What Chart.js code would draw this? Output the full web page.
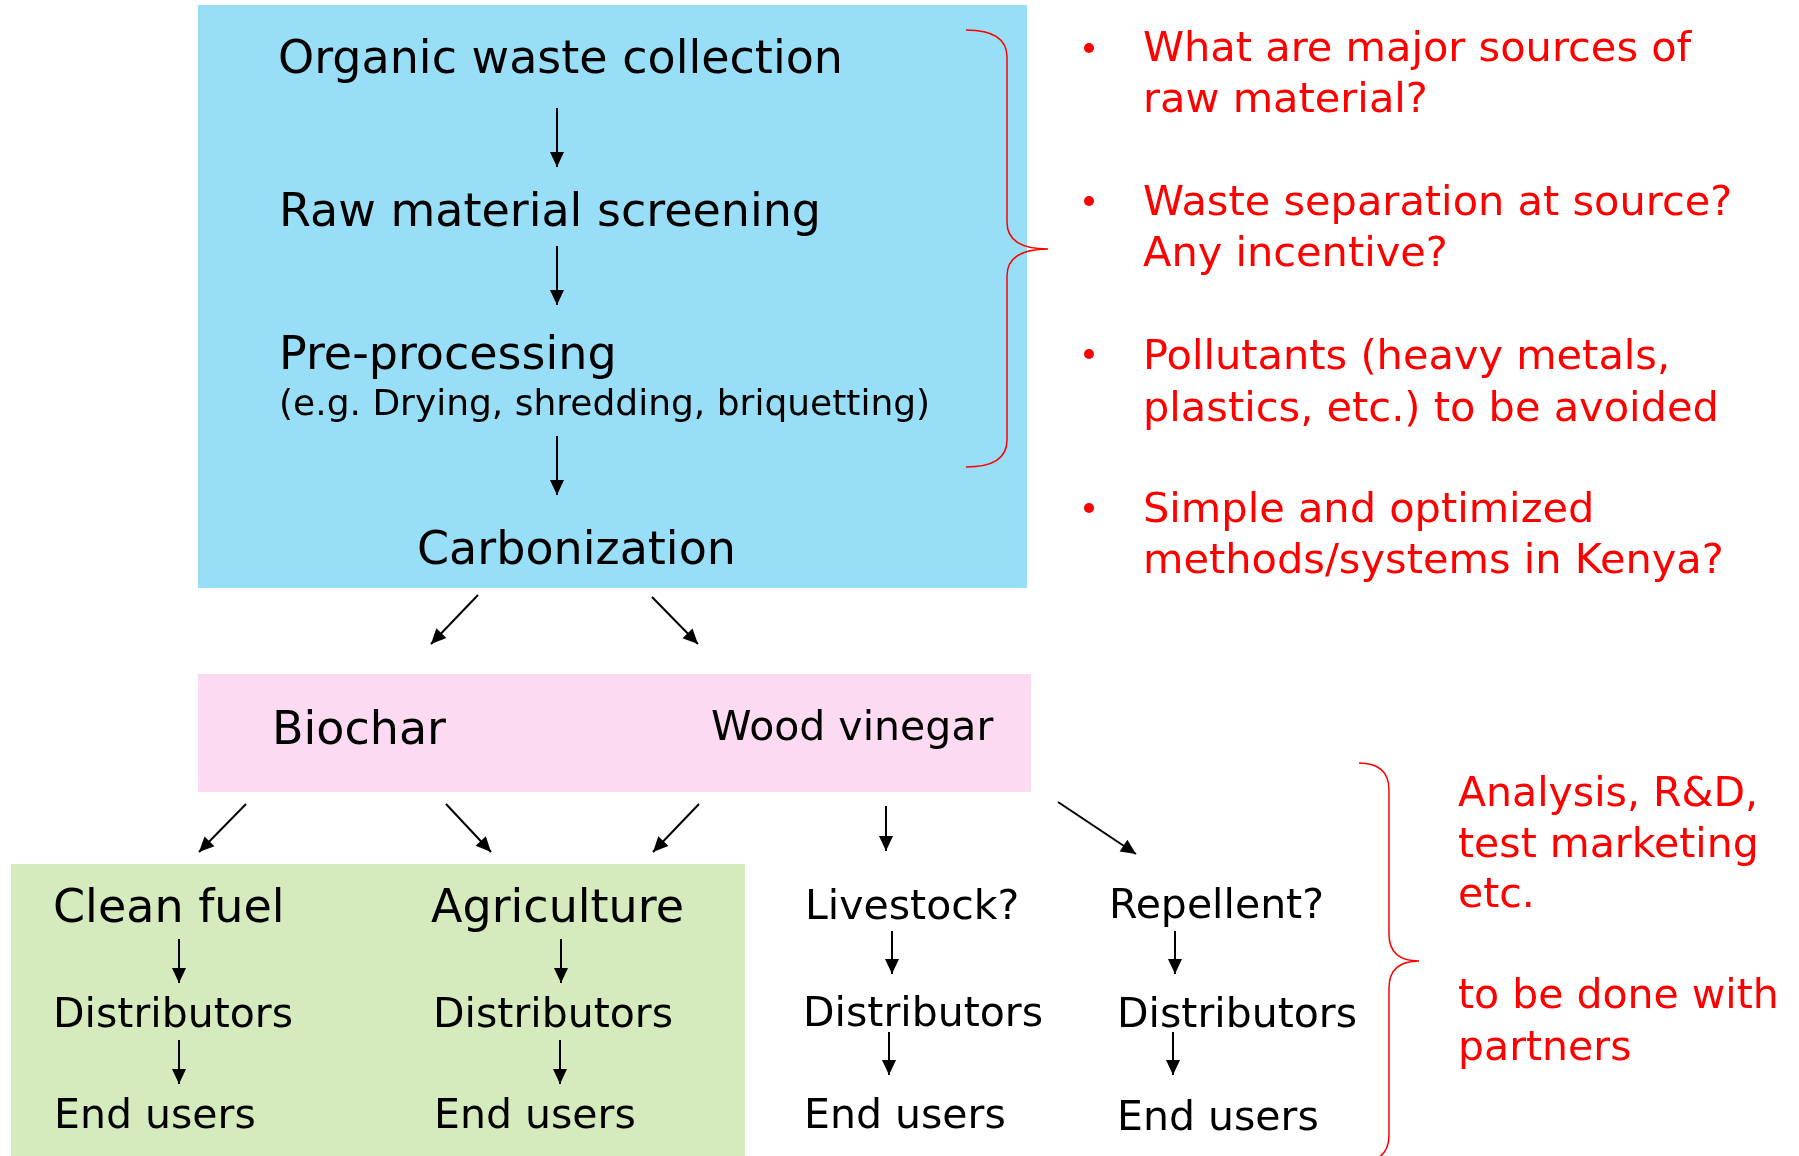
<!DOCTYPE html>
<html>
<head>
<meta charset="utf-8">
<script src="https://cdn.jsdelivr.net/npm/chart.js@4.4.1/dist/chart.umd.min.js"></script>
<style>
  html, body { margin:0; padding:0; background:#fff; }
  #wrap { width:1799px; height:1156px; }
</style>
</head>
<body>
<div id="wrap"><canvas id="flow" width="1799" height="1156"></canvas></div>
<script>
// 流程圖：每個節點都是座標系 (0..1799, 0..1156) 裡的一個點
const W = 1799, H = 1156;

// 上方流程
const flowSteps = ['Organic waste collection', 'Raw material screening', 'Pre-processing', 'Carbonization'];
const flowStepX = [278, 279, 279, 417];
const flowStepY = [73, 226, 369, 564];
const flowNote = ['(e.g. Drying, shredding, briquetting)'];
const flowNoteX = [279];
const flowNoteY = [415];

// 產物
const products = ['Biochar', 'Wood vinegar'];
const productX = [272, 711];
const productY = [744, 740];

// 用途 → 通路 → 使用者
const uses = ['Clean fuel', 'Agriculture', 'Livestock?', 'Repellent?'];
const useX = [53, 431, 805, 1109];
const useY = [922, 922, 919, 918];
const distLabel = ['Distributors', 'Distributors', 'Distributors', 'Distributors'];
const distX = [53, 433, 803, 1117];
const distY = [1027, 1027, 1026, 1027];
const endLabel = ['End users', 'End users', 'End users', 'End users'];
const endX = [54, 434, 804, 1117];
const endY = [1128, 1128, 1128, 1130];

// 紅字問題
const questions = ['What are major sources of', 'raw material?', 'Waste separation at source?', 'Any incentive?',
  'Pollutants (heavy metals,', 'plastics, etc.) to be avoided', 'Simple and optimized', 'methods/systems in Kenya?'];
const questionX = [1143, 1143, 1143, 1143, 1143, 1143, 1143, 1143];
const questionY = [61, 112, 215, 266, 369, 421, 522, 573];
const bulletX = [1089, 1089, 1089, 1089];
const bulletY = [48, 201, 354, 508];

const partnerNotes = ['Analysis, R&D,', 'test marketing', 'etc.', 'to be done with', 'partners'];
const partnerX = [1458, 1458, 1458, 1458, 1458];
const partnerY = [806, 857, 907, 1008, 1060];

// 箭頭 [x起, y起, x終, y終]
const arrows = [
  [557,108,557,167], [557,246,557,305], [557,436,557,495],
  [478,595,431,644], [652,597,698,644],
  [246,804,199,852], [446,804,491,852], [699,804,653,852], [886,806,886,851], [1058,802,1136,854],
  [179,939,179,983], [179,1040,179,1084],
  [561,939,561,983], [560,1040,560,1084],
  [892,931,892,974], [889,1032,889,1075],
  [1175,931,1175,974], [1173,1032,1173,1075]
];

// 背景框 [x0, y0, x1, y1]
const boxes = [[198,5,1027,588], [198,674,1031,792], [11,864,745,1156]];
const boxColors = ['#99DEF7', '#FCDAF2', '#D5EABD'];

// 大括號 [x尾, y上, x線, x尖, y尖, y下]
const braces = [[966,30,1007,1048,249,467], [1359,763,1389,1419,961,1162]];

const FONT = '"DejaVu Sans", Verdana, sans-serif';

function pts(xs, ys){ return xs.map((x,i)=>({x:x, y:ys[i]})); }
function textSet(labels, xs, ys, size, color){
  return { type:'scatter', data: pts(xs, ys), labels: labels, fontSize: size, textColor: color,
    pointRadius:0, pointHoverRadius:0 };
}

const datasets = [];
arrows.forEach(a=>{
  datasets.push({ type:'line', data:[{x:a[0],y:a[1]},{x:a[2],y:a[3]}], arrow:true,
    borderColor:'#000', borderWidth:2, pointRadius:0, fill:false, tension:0 });
});
datasets.push(textSet(flowSteps, flowStepX, flowStepY, 46, '#000'));
datasets.push(textSet(flowNote, flowNoteX, flowNoteY, 36, '#000'));
datasets.push(textSet(['Biochar'], [productX[0]], [productY[0]], 46, '#000'));
datasets.push(textSet(['Wood vinegar'], [productX[1]], [productY[1]], 41, '#000'));
datasets.push(textSet(uses.slice(0,2), useX.slice(0,2), useY.slice(0,2), 46, '#000'));
datasets.push(textSet(uses.slice(2), useX.slice(2), useY.slice(2), 41, '#000'));
datasets.push(textSet(distLabel, distX, distY, 41, '#000'));
datasets.push(textSet(endLabel, endX, endY, 41, '#000'));
datasets.push(textSet(questions, questionX, questionY, 41.5, '#FF0000'));
datasets.push(textSet(partnerNotes, partnerX, partnerY, 41, '#FF0000'));
datasets.push({ type:'scatter', data: pts(bulletX, bulletY), pointStyle:'circle', pointRadius:5,
  backgroundColor:'#FF0000', borderColor:'#FF0000', borderWidth:0 });

const diagramPlugin = {
  id: 'diagram',
  beforeDatasetsDraw(chart){
    const ctx = chart.ctx, sx = chart.scales.x, sy = chart.scales.y;
    ctx.save();
    boxes.forEach((b,i)=>{
      const x0 = sx.getPixelForValue(b[0]), y0 = sy.getPixelForValue(b[1]);
      const x1 = sx.getPixelForValue(b[2]), y1 = sy.getPixelForValue(b[3]);
      ctx.fillStyle = boxColors[i];
      ctx.fillRect(x0, y0, x1-x0, y1-y0);
    });
    // 大括號
    ctx.strokeStyle = '#FF0000';
    ctx.lineWidth = 1.5;
    braces.forEach(b=>{
      const xe = sx.getPixelForValue(b[0]), yt = sy.getPixelForValue(b[1]);
      const xl = sx.getPixelForValue(b[2]), xt = sx.getPixelForValue(b[3]);
      const ym = sy.getPixelForValue(b[4]), yb = sy.getPixelForValue(b[5]);
      const r = 27;
      ctx.beginPath();
      ctx.moveTo(xe, yt);
      ctx.quadraticCurveTo(xl, yt, xl, yt + r);
      ctx.lineTo(xl, ym - r);
      ctx.quadraticCurveTo(xl, ym, xt, ym);
      ctx.quadraticCurveTo(xl, ym, xl, ym + r);
      ctx.lineTo(xl, yb - r);
      ctx.quadraticCurveTo(xl, yb, xe, yb);
      ctx.stroke();
    });
    ctx.restore();
  },
  afterDatasetsDraw(chart){
    const ctx = chart.ctx;
    ctx.save();
    chart.data.datasets.forEach((ds, di)=>{
      const meta = chart.getDatasetMeta(di);
      if(ds.arrow){
        // 箭頭三角形
        const p0 = meta.data[0], p1 = meta.data[1];
        const ang = Math.atan2(p1.y - p0.y, p1.x - p0.x);
        const len = 15, half = 7;
        ctx.fillStyle = '#000';
        ctx.beginPath();
        ctx.moveTo(p1.x, p1.y);
        ctx.lineTo(p1.x - len*Math.cos(ang) + half*Math.sin(ang), p1.y - len*Math.sin(ang) - half*Math.cos(ang));
        ctx.lineTo(p1.x - len*Math.cos(ang) - half*Math.sin(ang), p1.y - len*Math.sin(ang) + half*Math.cos(ang));
        ctx.closePath();
        ctx.fill();
      }
      if(ds.labels){
        ctx.font = ds.fontSize + 'px ' + FONT;
        ctx.fillStyle = ds.textColor;
        ctx.textAlign = 'left';
        ctx.textBaseline = 'alphabetic';
        meta.data.forEach((pt, i)=> ctx.fillText(ds.labels[i], pt.x, pt.y));
      }
    });
    ctx.restore();
  }
};

new Chart(document.getElementById('flow'), {
  type: 'scatter',
  data: { datasets: datasets },
  options: {
    responsive: false,
    animation: false,
    devicePixelRatio: 1,
    layout: { padding: 0, autoPadding: false },
    scales: {
      x: { type:'linear', min:0, max:W, display:false },
      y: { type:'linear', min:0, max:H, reverse:true, display:false }
    },
    plugins: { legend:{display:false}, tooltip:{enabled:false} },
    events: []
  },
  plugins: [diagramPlugin]
});
</script>
</body>
</html>
